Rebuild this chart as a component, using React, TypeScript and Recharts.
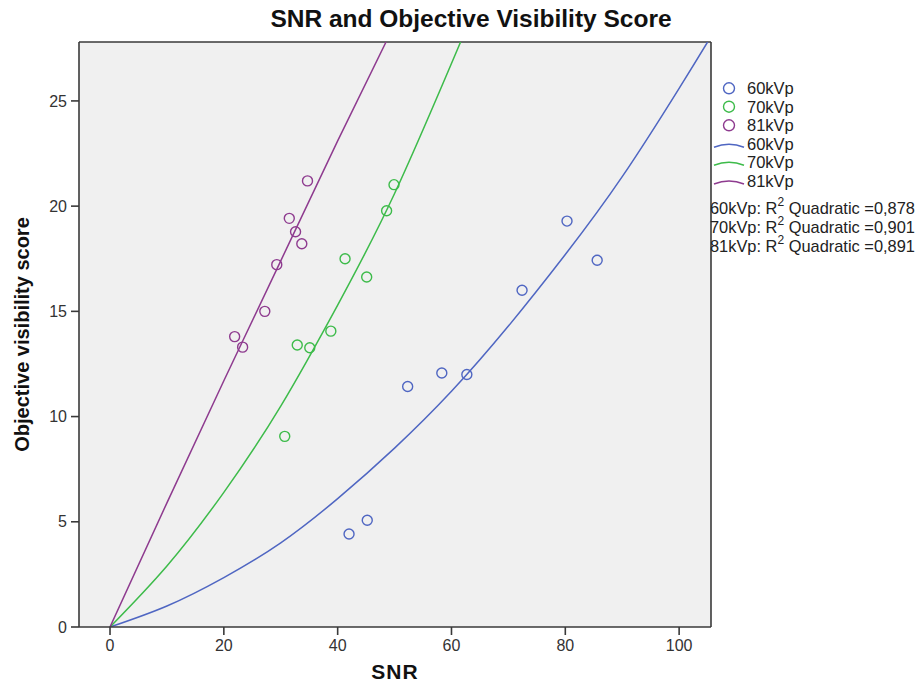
import {
  ComposedChart,
  Scatter,
  Line,
  XAxis,
  YAxis,
  CartesianGrid,
  ReferenceLine,
} from "recharts";

const FONT = '"Liberation Sans", Arial, sans-serif';

const X_MIN = -5.45;
const X_MAX = 105.6;
const Y_MAX = 27.8;
const X_TICKS = [0, 20, 40, 60, 80, 100];
const Y_TICKS = [0, 5, 10, 15, 20, 25];

const COLOR_60 = "#4f66c2";
const COLOR_70 = "#3dbb4a";
const COLOR_81 = "#8e3b8f";

// observed points
const SNR_60 = [42.0, 45.2, 52.3, 58.3, 62.7, 72.4, 80.3, 85.6];
const SCORE_60 = [4.42, 5.07, 11.43, 12.07, 12.0, 16.0, 19.29, 17.43];
const SNR_70 = [30.7, 32.9, 35.1, 38.8, 41.3, 45.1, 48.6, 49.9];
const SCORE_70 = [9.06, 13.4, 13.27, 14.06, 17.5, 16.63, 19.78, 21.02];
const SNR_81 = [21.9, 23.3, 27.2, 29.3, 31.5, 32.6, 33.7, 34.7];
const SCORE_81 = [13.8, 13.3, 15.0, 17.22, 19.42, 18.78, 18.21, 21.2];

// quadratic fit lines
const FIT_X_60 = [0, 10, 20, 30, 40, 50, 60, 70, 80, 90, 100, 105];
const FIT_Y_60 = [0, 1.0, 2.35, 4.0, 6.1, 8.5, 11.2, 14.3, 17.7, 21.4, 25.6, 27.8];
const FIT_X_70 = [0, 10, 20, 30, 40, 50, 61.6];
const FIT_Y_70 = [0, 2.9, 6.4, 10.5, 15.3, 20.6, 27.8];
const FIT_X_81 = [0, 10, 20, 30, 40, 48.5];
const FIT_Y_81 = [0, 5.9, 11.7, 17.4, 23.1, 27.8];

const LEGEND_ITEMS = ["60kVp", "70kVp", "81kVp"];
const R2_VALUES = ["0,878", "0,901", "0,891"];
const COLORS = [COLOR_60, COLOR_70, COLOR_81];

const zip = (xs: number[], ys: number[]) => xs.map((x, i) => ({ x, y: ys[i] }));

const openCircle = (color: string) => (props: any) =>
  (
    <circle
      cx={props.cx}
      cy={props.cy}
      r={5}
      fill="none"
      stroke={color}
      strokeWidth={1.4}
    />
  );

function LegendPanel() {
  const circleRows = [88.3, 106.7, 125.3];
  const lineRows = [144.3, 162.3, 181];
  const r2Rows = [208.3, 226.7, 245.7];
  return (
    <svg
      width={921}
      height={687}
      style={{
        position: "absolute",
        left: 0,
        top: 0,
        pointerEvents: "none",
        overflow: "visible",
      }}
    >
      <g fontFamily={FONT} fontSize={16.5} fill="#222">
        {LEGEND_ITEMS.map((name, i) => (
          <g key={"c" + name}>
            <circle
              cx={729}
              cy={circleRows[i]}
              r={5.5}
              fill="none"
              stroke={COLORS[i]}
              strokeWidth={1.4}
            />
            <text x={747} y={circleRows[i]} dominantBaseline="central">
              {name}
            </text>
          </g>
        ))}
        {LEGEND_ITEMS.map((name, i) => (
          <g key={"l" + name}>
            <path
              d={`M714,${lineRows[i] + 3} Q729,${lineRows[i] - 3} 744,${lineRows[i] + 3}`}
              fill="none"
              stroke={COLORS[i]}
              strokeWidth={1.5}
            />
            <text x={747} y={lineRows[i]} dominantBaseline="central">
              {name}
            </text>
          </g>
        ))}
        {LEGEND_ITEMS.map((name, i) => (
          <text
            key={"r" + name}
            x={710}
            y={r2Rows[i]}
            fontSize={16.4}
            dominantBaseline="central"
          >
            {name}: R
            <tspan fontSize={12} dy={-6}>
              2
            </tspan>
            <tspan dy={6}> Quadratic ={R2_VALUES[i]}</tspan>
          </text>
        ))}
      </g>
    </svg>
  );
}

export default function App() {
  const tickStyle = { fontFamily: FONT, fontSize: 16, fill: "#333" };
  const axisLine = { stroke: "#3a3a3a", strokeWidth: 1.6 };

  return (
    <div
      style={{
        position: "fixed",
        left: 0,
        top: 0,
        width: 921,
        height: 687,
        background: "#fff",
        fontFamily: FONT,
      }}
    >
      <div
        style={{
          position: "absolute",
          left: 0,
          width: 942,
          top: 5,
          textAlign: "center",
          fontWeight: "bold",
          fontSize: 24.5,
          color: "#111",
        }}
      >
        SNR and Objective Visibility Score
      </div>
      <ComposedChart
        width={921}
        height={687}
        margin={{ top: 42, right: 210, bottom: 0, left: 19 }}
      >
        <CartesianGrid
          fill="#f0f0f0"
          horizontal={false}
          vertical={false}
          stroke="none"
        />
        <XAxis
          type="number"
          dataKey="x"
          domain={[X_MIN, X_MAX]}
          ticks={X_TICKS}
          allowDataOverflow
          height={60}
          tickSize={8}
          tickMargin={5}
          tick={tickStyle}
          axisLine={axisLine}
          tickLine={axisLine}
          label={{
            value: "SNR",
            position: "insideBottom",
            offset: 0,
            dy: -8,
            style: {
              fontFamily: FONT,
              fontWeight: "bold",
              fontSize: 21,
              letterSpacing: 1,
              fill: "#111",
            },
          }}
        />
        <YAxis
          type="number"
          dataKey="y"
          domain={[0, Y_MAX]}
          ticks={Y_TICKS}
          allowDataOverflow
          width={60}
          tickSize={8}
          tickMargin={4}
          tick={tickStyle}
          axisLine={axisLine}
          tickLine={axisLine}
          label={{
            value: "Objective visibility score",
            angle: -90,
            position: "insideLeft",
            offset: 0,
            dx: 3,
            style: {
              textAnchor: "middle",
              fontFamily: FONT,
              fontWeight: "bold",
              fontSize: 20,
              fill: "#111",
            },
          }}
        />
        <ReferenceLine y={Y_MAX} stroke="#3a3a3a" strokeWidth={1.6} />
        <ReferenceLine x={X_MAX} stroke="#3a3a3a" strokeWidth={1.6} />

        <Line
          data={zip(FIT_X_60, FIT_Y_60)}
          dataKey="y"
          type="natural"
          stroke={COLOR_60}
          strokeWidth={1.5}
          dot={false}
          activeDot={false}
          isAnimationActive={false}
        />
        <Line
          data={zip(FIT_X_70, FIT_Y_70)}
          dataKey="y"
          type="natural"
          stroke={COLOR_70}
          strokeWidth={1.5}
          dot={false}
          activeDot={false}
          isAnimationActive={false}
        />
        <Line
          data={zip(FIT_X_81, FIT_Y_81)}
          dataKey="y"
          type="natural"
          stroke={COLOR_81}
          strokeWidth={1.5}
          dot={false}
          activeDot={false}
          isAnimationActive={false}
        />

        <Scatter
          data={zip(SNR_60, SCORE_60)}
          dataKey="y"
          shape={openCircle(COLOR_60)}
          isAnimationActive={false}
        />
        <Scatter
          data={zip(SNR_70, SCORE_70)}
          dataKey="y"
          shape={openCircle(COLOR_70)}
          isAnimationActive={false}
        />
        <Scatter
          data={zip(SNR_81, SCORE_81)}
          dataKey="y"
          shape={openCircle(COLOR_81)}
          isAnimationActive={false}
        />
      </ComposedChart>
      <LegendPanel />
    </div>
  );
}
